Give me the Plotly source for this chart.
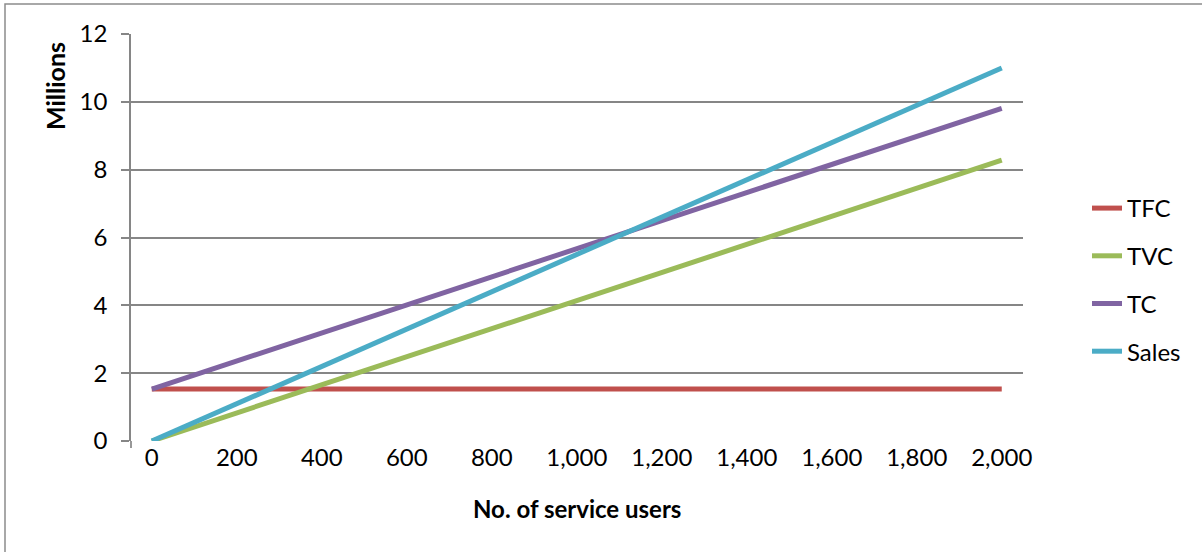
import plotly.graph_objects as go

# Data (values in millions)
users = [0, 2000]
tfc = [1.53, 1.53]
tvc = [0.0, 8.28]
tc = [1.53, 9.81]
sales = [0.0, 11.0]

series_names = ["TFC", "TVC", "TC", "Sales"]
series_values = [tfc, tvc, tc, sales]
colors = ["#C0504D", "#9BBB59", "#8064A2", "#4BACC6"]

x_ticks = [0, 200, 400, 600, 800, 1000, 1200, 1400, 1600, 1800, 2000]
x_tick_labels = ["0", "200", "400", "600", "800", "1,000", "1,200", "1,400", "1,600", "1,800", "2,000"]
y_ticks = [0, 2, 4, 6, 8, 10, 12]

W, H = 1202, 552
ML, MR, MT, MB = 131, 179, 34, 111
PW, PH = W - ML - MR, H - MT - MB

def px_x(p):
    return (p - ML) / PW

def px_y(p):
    return (H - MB - p) / PH

FONT = "Lato"
GRID = "#868686"
FS = 24

fig = go.Figure()
for i, (name, vals, col) in enumerate(zip(series_names, series_values, colors)):
    fig.add_trace(go.Scatter(
        x=users, y=vals, mode="lines", name=name,
        line=dict(color=col, width=5),
        legendgroup=f"g{i}",
    ))

fig.update_layout(
    width=W, height=H,
    margin=dict(l=ML, r=MR, t=MT, b=MB),
    paper_bgcolor="white", plot_bgcolor="white",
    font=dict(family=FONT, size=FS, color="black"),
    showlegend=True,
    legend=dict(
        x=px_x(1087), y=px_y(186), xanchor="left", yanchor="top",
        font=dict(family=FONT, size=FS, color="black"),
        tracegroupgap=13.5, bgcolor="rgba(0,0,0,0)",
    ),
    xaxis=dict(
        range=[-49, 2050], tickmode="array", tickvals=x_ticks, ticktext=x_tick_labels,
        showgrid=False, zeroline=False, showline=False, ticks="",
        tickfont=dict(family=FONT, size=FS, color="black"),
        fixedrange=True,
    ),
    yaxis=dict(
        range=[0, 12], tickmode="array", tickvals=y_ticks,
        showgrid=True, gridcolor=GRID, gridwidth=1.7, zeroline=False,
        showline=True, linecolor=GRID, linewidth=1.7,
        ticks="outside", ticklen=8, tickcolor=GRID, tickwidth=1.7,
        ticklabelstandoff=9,
        tickfont=dict(family=FONT, size=FS, color="black"),
        fixedrange=True,
    ),
    annotations=[
        dict(text="<b>No. of service users</b>", xref="paper", yref="paper",
             x=0.5, y=px_y(508), xanchor="center", yanchor="middle",
             showarrow=False, font=dict(family=FONT, size=FS, color="black")),
        dict(text="<b>Millions</b>", xref="paper", yref="paper",
             x=px_x(55), y=px_y(86), xanchor="center", yanchor="middle",
             textangle=-90, showarrow=False,
             font=dict(family=FONT, size=FS + 1, color="black")),
    ],
    shapes=[
        dict(type="rect", xref="paper", yref="paper",
             x0=px_x(5), y0=px_y(565), x1=px_x(1215), y1=px_y(4),
             line=dict(color="#8c8c8c", width=1.5), fillcolor="rgba(0,0,0,0)", layer="below"),
        dict(type="line", xref="paper", yref="paper",
             x0=0, x1=0, y0=0, y1=px_y(448),
             line=dict(color=GRID, width=1.7)),
    ],
)

fig.write_html("out.html", config={"displayModeBar": False},
               post_script="document.body.style.margin='0';")
